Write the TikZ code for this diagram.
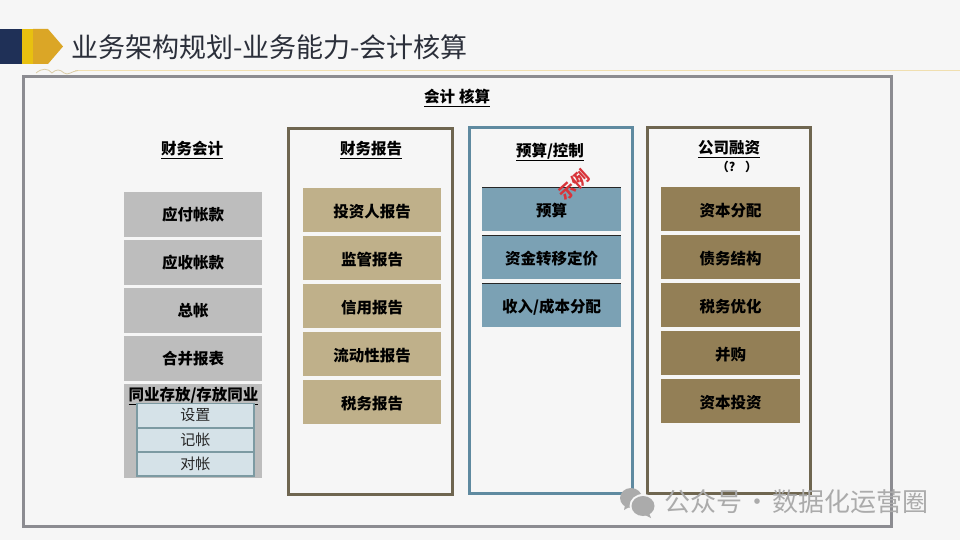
\documentclass[tikz,border=0pt]{standalone}
\usepackage{fontspec}
\setmainfont{Noto Sans CJK SC}
\usetikzlibrary{positioning}
\definecolor{bgc}{HTML}{F6F6F6}
\definecolor{navy}{HTML}{1F3057}
\definecolor{yel}{HTML}{E8C010}
\definecolor{gold}{HTML}{DBA626}
\definecolor{lineg}{HTML}{F0DFB0}
\definecolor{frameg}{HTML}{8C8C91}
\definecolor{grayb}{HTML}{BDBDBD}
\definecolor{tanb}{HTML}{BFB08A}
\definecolor{blueb}{HTML}{7BA1B4}
\definecolor{oliveb}{HTML}{937F56}
\definecolor{framebr}{HTML}{6F6650}
\definecolor{framebl}{HTML}{5F8AA0}
\definecolor{innerb}{HTML}{D5E2E8}
\definecolor{innerl}{HTML}{7C9AA2}
\definecolor{wm}{HTML}{ABABAB}
\definecolor{titlec}{HTML}{2B2F3A}
\definecolor{stamp}{HTML}{D8343A}
\newcommand{\ct}[2][-1pt]{\raisebox{#1}[\height][\depth]{#2}}
\tikzset{
  cell/.style={minimum width=138pt,minimum height=45pt,inner sep=0pt,font=\fontsize{15.5}{17}\selectfont\bfseries,text=black,anchor=north west},
  grayc/.style={cell,fill=grayb},
  tanc/.style={cell,fill=tanb,minimum height=44pt},
  bluec/.style={cell,fill=blueb,minimum height=44pt},
  olivec/.style={cell,fill=oliveb,minimum height=44pt},
  head/.style={font=\fontsize{15.5}{17}\selectfont\bfseries,text=black,inner sep=0pt},
  pane/.style={draw,line width=3pt,inner sep=0pt,anchor=north west,fill=bgc},
  subc/.style={draw=innerl,line width=1.5pt,fill=innerb,minimum width=117pt,minimum height=24pt,inner sep=0pt,anchor=north west,font=\fontsize{15}{17}\selectfont,text=black!85},
  wmt/.style={font=\fontsize{26}{30}\selectfont,text=wm,inner sep=0pt,anchor=west}
}
\begin{document}
\begin{tikzpicture}[x=1pt,y=-1pt]
\useasboundingbox (0,0) rectangle (960,540);
\fill[bgc] (0,0) rectangle (960,540);
% header
\fill[navy] (0,29) rectangle (22,64);
\fill[yel] (22,29) rectangle (33,64);
\fill[gold] (33,29) -- (48,29) -- (63,46.5) -- (48,64) -- (33,64) -- cycle;
\node[anchor=west,inner sep=0pt,font=\fontsize{27}{30}\selectfont,text=titlec] (title) at (71,47) {业务架构规划-业务能力-会计核算};
\draw[lineg,line width=1.5pt] (75,70.5) -- (960,70.5);
\draw[lineg!80!gray,line width=0.8pt] (36,73) .. controls (42,68) and (48,68) .. (52,73) .. controls (56,69) and (60,69) .. (64,73) .. controls (68,76) and (72,71) .. (78,70.5);
% outer frame
\node[draw=frameg,line width=3pt,minimum width=868pt,minimum height=450pt,inner sep=0pt,anchor=north west] (outer) at (22,75) {};
\node[head] (main) at (457,98) {\underline{会计\hspace{4pt}核算}};
% left column
\node[head] (h1) at (192,150) {\underline{财务会计}};
\node[grayc] (a1) at (124,192) {应付帐款};
\node[grayc] (a2) at (124,240) {应收帐款};
\node[grayc] (a3) at (124,288) {总帐};
\node[grayc] (a4) at (124,336) {合并报表};
\node[cell,fill=grayb,minimum height=94pt] (a5) at (124,384) {};
\node[head] (a5t) at (193.5,396) {\underline{同业存放/存放同业}};
\node[subc] (s1) at (136,402.5) {设置};
\node[subc] (s2) at (136,427) {记帐};
\node[subc] (s3) at (136,451) {对帐};
% report pane
\node[pane,draw=framebr,minimum width=164pt,minimum height=366pt] (p2) at (287,127) {};
\node[head] (h2) at (371,150) {\underline{财务报告}};
\node[tanc] (b1) at (303,188) {\ct{投资人报告}};
\node[tanc] (b2) at (303,236) {\ct{监管报告}};
\node[tanc] (b3) at (303,284) {\ct{信用报告}};
\node[tanc] (b4) at (303,332) {\ct{流动性报告}};
\node[tanc] (b5) at (303,380) {\ct{税务报告}};
% budget pane
\node[pane,draw=framebl,minimum width=163pt,minimum height=366pt] (p3) at (468,126) {};
\node[head] (h3) at (550,152) {\underline{预算/控制}};
\node[bluec,minimum width=139pt] (c1) at (482,187) {\ct{预算}};
\node[bluec,minimum width=139pt] (c2) at (482,235) {\ct{资金转移定价}};
\node[bluec,minimum width=139pt] (c3) at (482,283) {\ct[-2pt]{收入/成本分配}};
\draw[black!85,line width=1pt] (c1.north west) -- (c1.north east);
\draw[black!85,line width=1pt] (c2.north west) -- (c2.north east);
\draw[black!85,line width=1pt] (c3.north west) -- (c3.north east);
\node[inner sep=0pt,rotate=42,text=stamp,font=\fontsize{17}{19}\selectfont\bfseries] (ex) at (574,185) {示例};
% finance pane
\node[pane,draw=framebr,minimum width=163pt,minimum height=366pt] (p4) at (646,126) {};
\node[head] (h4) at (729,149) {\underline{公司融资}};
\node[head,font=\fontsize{12}{14}\selectfont\bfseries] (q) at (737,167) {（?\hspace{10pt}）};
\node[olivec,minimum width=139pt] (d1) at (661,187) {\ct{资本分配}};
\node[olivec,minimum width=139pt] (d2) at (661,235) {\ct{债务结构}};
\node[olivec,minimum width=139pt] (d3) at (661,283) {\ct{税务优化}};
\node[olivec,minimum width=139pt] (d4) at (661,331) {\ct{并购}};
\node[olivec,minimum width=139pt] (d5) at (661,379) {\ct{资本投资}};
% watermark
\fill[wm] (631,498) ellipse (11pt and 10pt);
\fill[wm] (625,505) -- (624,510) -- (631,506) -- cycle;
\fill[bgc] (643,506) ellipse (13.5pt and 12pt);
\fill[wm] (643,506) ellipse (11.5pt and 10pt);
\fill[wm] (649,513) -- (651,518) -- (643,514) -- cycle;
\node[wmt] (wm) at (664,502) {公众号\hspace{2pt}·\hspace{2pt}数据化运营圈};
\end{tikzpicture}
\end{document}
